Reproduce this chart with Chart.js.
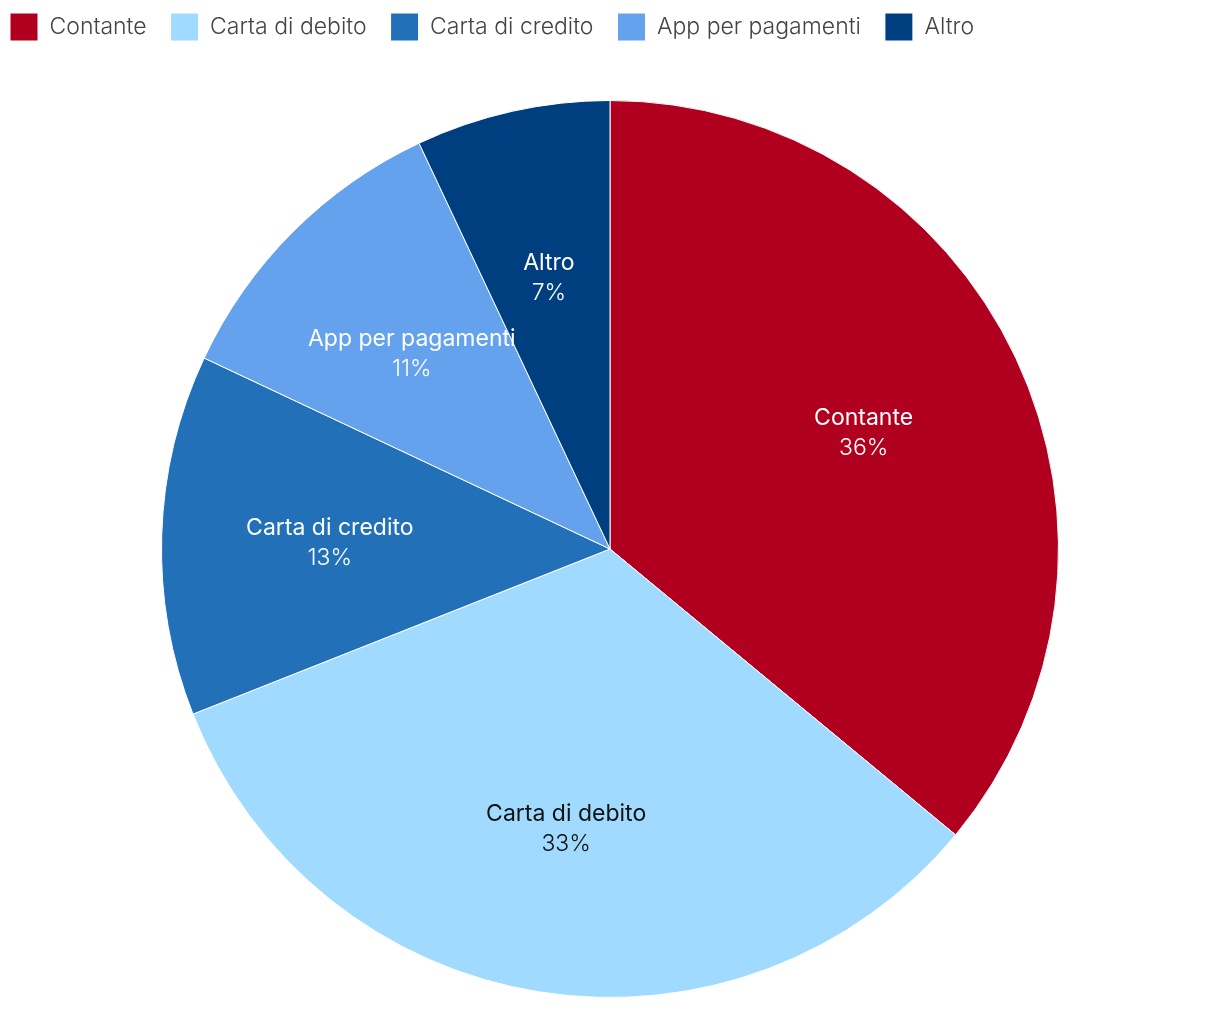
<!DOCTYPE html>
<html>
<head>
<meta charset="utf-8">
<script src="https://cdn.jsdelivr.net/npm/chart.js@4.4.1/dist/chart.umd.min.js"></script>
<style>
  html, body { margin: 0; padding: 0; background: #fff; }
  #wrap { width: 1220px; height: 1010px; position: relative; }
</style>
</head>
<body>
<div id="wrap"><canvas id="chart"></canvas></div>
<script>
// dati
const categories = ['Contante', 'Carta di debito', 'Carta di credito', 'App per pagamenti', 'Altro'];
const shares = [36, 33, 13, 11, 7];
const sliceColors = ['#B1001F', '#A0DAFF', '#2170B8', '#64A2EE', '#003F7F'];
const labelColors = ['#ffffff', '#111111', '#ffffff', '#ffffff', '#ffffff'];

const FONT = 'Inter, "Noto Sans", sans-serif';

// etichette dentro le fette
const sliceLabels = {
  id: 'sliceLabels',
  afterDatasetsDraw(chart) {
    const ctx = chart.ctx;
    const meta = chart.getDatasetMeta(0);
    ctx.save();
    ctx.textAlign = 'center';
    ctx.textBaseline = 'middle';
    meta.data.forEach((arc, i) => {
      const p = arc.getProps(['x', 'y', 'startAngle', 'endAngle', 'outerRadius'], true);
      const mid = (p.startAngle + p.endAngle) / 2;
      const r = p.outerRadius * 0.625;
      const x = p.x + Math.cos(mid) * r;
      const y = p.y + Math.sin(mid) * r;
      ctx.fillStyle = labelColors[i];
      ctx.font = '400 23px ' + FONT;
      ctx.fillText(categories[i], x, y - 12);
      ctx.font = '300 23px ' + FONT;
      ctx.fillText(shares[i] + '%', x, y + 18);
    });
    ctx.restore();
  }
};

// spazio sotto la legenda
const legendSpace = {
  id: 'legendSpace',
  beforeInit(chart) {
    const fit = chart.legend.fit;
    chart.legend.fit = function () {
      fit.bind(chart.legend)();
      this.height = 111;
    };
  }
};

new Chart(document.getElementById('chart').getContext('2d'), {
  type: 'pie',
  data: {
    labels: categories,
    datasets: [{
      data: shares,
      backgroundColor: sliceColors,
      borderColor: '#ffffff',
      borderWidth: 1
    }]
  },
  options: {
    responsive: true,
    maintainAspectRatio: false,
    animation: false,
    layout: { padding: { top: -11, bottom: 12, left: -14, right: -14 } },
    plugins: {
      tooltip: { enabled: false },
      legend: {
        position: 'top',
        align: 'start',
        labels: {
          boxWidth: 28,
          boxHeight: 28,
          padding: 24,
          color: '#444444',
          font: { family: FONT, size: 23, weight: '300' }
        }
      }
    }
  },
  plugins: [legendSpace, sliceLabels]
});
</script>
</body>
</html>
